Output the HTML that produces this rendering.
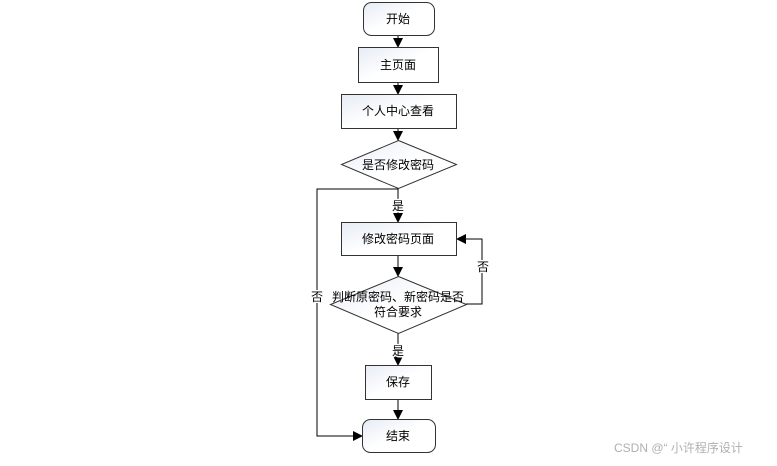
<!DOCTYPE html>
<html><head><meta charset="utf-8"><style>
body{margin:0;background:#fff;}
svg text{font-family:"Liberation Sans","Noto Sans CJK SC",sans-serif;font-size:12px;fill:#000;}
</style></head><body>
<svg width="777" height="461" xmlns="http://www.w3.org/2000/svg">
<defs>
<linearGradient id="g" x1="0" y1="0" x2="1" y2="1"><stop offset="0" stop-color="#e6ebf5"/><stop offset="0.5" stop-color="#ffffff"/><stop offset="1" stop-color="#ffffff"/></linearGradient>
<marker id="a" markerWidth="10" markerHeight="10" refX="9" refY="5" orient="auto" markerUnits="userSpaceOnUse"><path d="M0,0 L10,5 L0,10 z" fill="#000"/></marker>
</defs>
<g stroke="#000" stroke-width="1" fill="none">
<line x1="398" y1="35" x2="398" y2="47" marker-end="url(#a)"/>
<line x1="398" y1="82" x2="398" y2="94" marker-end="url(#a)"/>
<line x1="398" y1="128" x2="398" y2="140" marker-end="url(#a)"/>
<line x1="398" y1="188" x2="398" y2="222" marker-end="url(#a)"/>
<line x1="398" y1="255" x2="398" y2="276" marker-end="url(#a)"/>
<line x1="398" y1="333" x2="398" y2="365" marker-end="url(#a)"/>
<line x1="398" y1="399" x2="398" y2="419" marker-end="url(#a)"/>
<polyline points="398,189 317,189 317,436 362,436" marker-end="url(#a)"/>
<polyline points="466,304 482,304 482,239 457,239" marker-end="url(#a)"/>
</g>
<g stroke="#333" stroke-width="1" fill="url(#g)">
<rect x="363.5" y="2.5" width="71" height="33" rx="8"/>
<rect x="358.5" y="47.5" width="80" height="35"/>
<rect x="341.5" y="94.5" width="115" height="34"/>
<polygon points="398.5,140.5 456.5,164.5 398.5,188.5 341.5,164.5"/>
<rect x="341.5" y="222.5" width="115" height="33"/>
<polygon points="398.5,276.5 466.5,304.5 398.5,333.5 330.5,304.5"/>
<rect x="365.5" y="365.5" width="66" height="34"/>
<rect x="362.5" y="419.5" width="73" height="33" rx="8"/>
</g>
<g text-anchor="middle">
<text x="398" y="23">开始</text>
<text x="398" y="69">主页面</text>
<text x="398" y="115">个人中心查看</text>
<text x="398" y="169">是否修改密码</text>
<text x="398" y="243">修改密码页面</text>
<text x="398" y="301">判断原密码、新密码是否</text>
<text x="398" y="316">符合要求</text>
<text x="398" y="386">保存</text>
<text x="398" y="440">结束</text>
<text x="398" y="210" fill="#000" stroke="#fff" stroke-width="3" paint-order="stroke">是</text>
<text x="398" y="355" stroke="#fff" stroke-width="3" paint-order="stroke">是</text>
<text x="483" y="271" stroke="#fff" stroke-width="3" paint-order="stroke">否</text>
<text x="317" y="301" stroke="#fff" stroke-width="3" paint-order="stroke">否</text>
</g>
<text x="614" y="452" style="fill:#b0b0b0;font-size:12px">CSDN @“ 小许程序设计</text>
</svg>
</body></html>
